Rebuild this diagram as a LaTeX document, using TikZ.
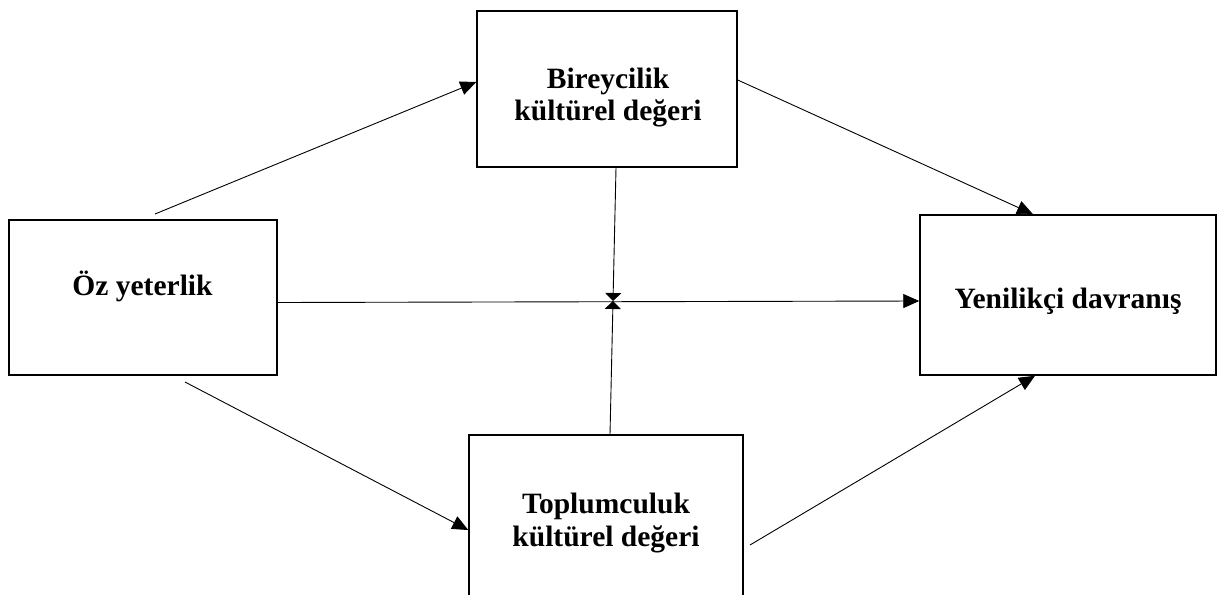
\documentclass[tikz,border=0pt]{standalone}
\usepackage{fontspec}
\setmainfont{Liberation Serif}
\usetikzlibrary{arrows.meta}
\begin{document}
\begin{tikzpicture}[x=1pt, y=-1pt,
    box/.style={rectangle, draw, line width=1.5pt, inner sep=0pt},
    caption/.style={align=center, inner sep=0pt,
      font=\fontsize{29.5}{32.5}\selectfont\bfseries},
    link/.style={line width=0.9pt, -{Triangle[length=16pt, width=14pt]}},
    meet/.style={line width=0.9pt, -{Triangle[length=8pt, width=16pt]}}]
    \clip (0,0) rectangle (1222,594);
    \fill[white] (0,0) rectangle (1222,594);
    \begin{scope}[every node/.style={box}]
      \node [minimum width=268pt, minimum height=155pt] (oz) at (143,297.5) {};
      \node [minimum width=260pt, minimum height=156pt] (bir) at (607,89) {};
      \node [minimum width=274pt, minimum height=180pt] (top) at (606,525) {};
      \node [minimum width=296pt, minimum height=160pt] (yen) at (1068,295) {};
    \end{scope}
    \begin{scope}[every node/.style={caption}]
      \node [anchor=base] (oztext) at (142.5,295) {\"Oz yeterlik};
      \node (birtext) at (608,97.5) {Bireycilik\\ kültürel değeri};
      \node (toptext) at (606,523) {Toplumculuk\\ kültürel değeri};
      \node [anchor=base] (yentext) at (1068,308) {Yenilikçi davranış};
    \end{scope}
    \coordinate (ozup) at (155,214);
    \coordinate (ozdown) at (185,382);
    \coordinate (topout) at (750,545);
    \coordinate (mid) at (613,301);
    \begin{scope}[link]
      \draw (ozup) to ([yshift=7pt]bir.west);
      \draw ([yshift=9pt]bir.east) to ([xshift=-35pt]yen.north);
      \draw (ozdown) to ([yshift=-5pt]top.west);
      \draw (topout) to ([xshift=-33pt]yen.south);
      \draw ([yshift=-5pt]oz.east) to ([yshift=-6pt]yen.west);
    \end{scope}
    \begin{scope}[meet]
      \draw ([xshift=9pt]bir.south) to (mid);
      \draw ([xshift=4pt]top.north) to (mid);
    \end{scope}
  \end{tikzpicture}
\end{document}
